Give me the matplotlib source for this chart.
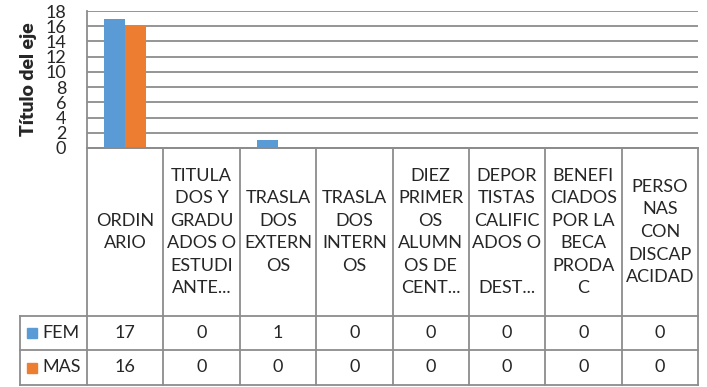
import matplotlib
matplotlib.use("Agg")
import matplotlib.pyplot as plt
from matplotlib.patches import Rectangle

plt.rcParams['font.family'] = ['Lato', 'DejaVu Sans']

categories = ["ORDIN\nARIO",
              "TITULA\nDOS Y\nGRADU\nADOS O\nESTUDI\nANTE...",
              "TRASLA\nDOS\nEXTERN\nOS",
              "TRASLA\nDOS\nINTERN\nOS",
              "DIEZ\nPRIMER\nOS\nALUMN\nOS DE\nCENT...",
              "DEPOR\nTISTAS\nCALIFIC\nADOS O\n\nDEST...",
              "BENEFI\nCIADOS\nPOR LA\nBECA\nPRODA\nC",
              "PERSO\nNAS\nCON\nDISCAP\nACIDAD"]
fem = [17, 0, 1, 0, 0, 0, 0, 0]
mas = [16, 0, 0, 0, 0, 0, 0, 0]
series = ["FEM", "MAS"]
colors = ["#5B9BD5", "#ED7D31"]
yticks = [0, 2, 4, 6, 8, 10, 12, 14, 16, 18]

W, H = 707, 387
fig = plt.figure(figsize=(W / 100, H / 100), dpi=100)

# pixel layout
x0, x1 = 87, 698
ytop, ybase = 11, 148
yhead, yrow1, yrow2 = 316, 350, 385
xleg = 20
grid_c = "#8c8c8c"
txt_c = "#262626"

ax = fig.add_axes([x0 / W, 1 - ybase / H, (x1 - x0) / W, (ybase - ytop) / H])
n = len(categories)
idx = list(range(n))
bw = 0.275
ax.bar([i - bw / 2 for i in idx], fem, width=bw, color=colors[0], zorder=3)
ax.bar([i + bw / 2 for i in idx], mas, width=bw, color=colors[1], zorder=3)
ax.set_xlim(-0.5, n - 0.5)
ax.set_ylim(0, 18)
ax.set_yticks(yticks)
ax.set_yticklabels([str(v) for v in yticks], fontsize=13, color=txt_c)
ax.tick_params(axis='y', length=0, pad=15)
ax.set_xticks([])
ax.grid(axis='y', color=grid_c, linewidth=1.3, zorder=0)
for s in ax.spines.values():
    s.set_color(grid_c)
    s.set_linewidth(1.3)
ax.spines['top'].set_visible(False)
ax.spines['right'].set_visible(False)
ax.set_ylabel("Título del eje", fontsize=14, fontweight='heavy', color=txt_c,
              labelpad=6)

# data table in pixel coordinates
tab = fig.add_axes([0, 0, 1, 1])
tab.set_xlim(0, W)
tab.set_ylim(H, 0)
tab.axis('off')
cw = (x1 - x0) / n
lk = dict(color=grid_c, linewidth=1.3)
for i in range(n + 1):
    xc = x0 + i * cw
    tab.plot([xc, xc], [ybase, yrow2], **lk)
tab.plot([xleg, xleg], [yhead, yrow2], **lk)
tab.plot([x0, x1], [ybase, ybase], **lk)
for yy in (yhead, yrow1, yrow2):
    tab.plot([xleg, x1], [yy, yy], **lk)

for i, cat in enumerate(categories):
    tab.text(x0 + (i + 0.5) * cw, (ybase + yhead) / 2, cat, ha='center', va='center',
             fontsize=13, linespacing=1.5, color=txt_c)

rows = [(yhead, yrow1), (yrow1, yrow2)]
for (ya, yb), name, vals, c in zip(rows, series, [fem, mas], colors):
    ym = (ya + yb) / 2
    tab.add_patch(Rectangle((27, ym - 5), 10, 10, color=c))
    tab.text(42, ym, name, ha='left', va='center', fontsize=13, color=txt_c)
    for i, v in enumerate(vals):
        tab.text(x0 + (i + 0.5) * cw, ym, str(v), ha='center', va='center',
                 fontsize=13, color=txt_c)

fig.savefig("out.png", dpi=100)
